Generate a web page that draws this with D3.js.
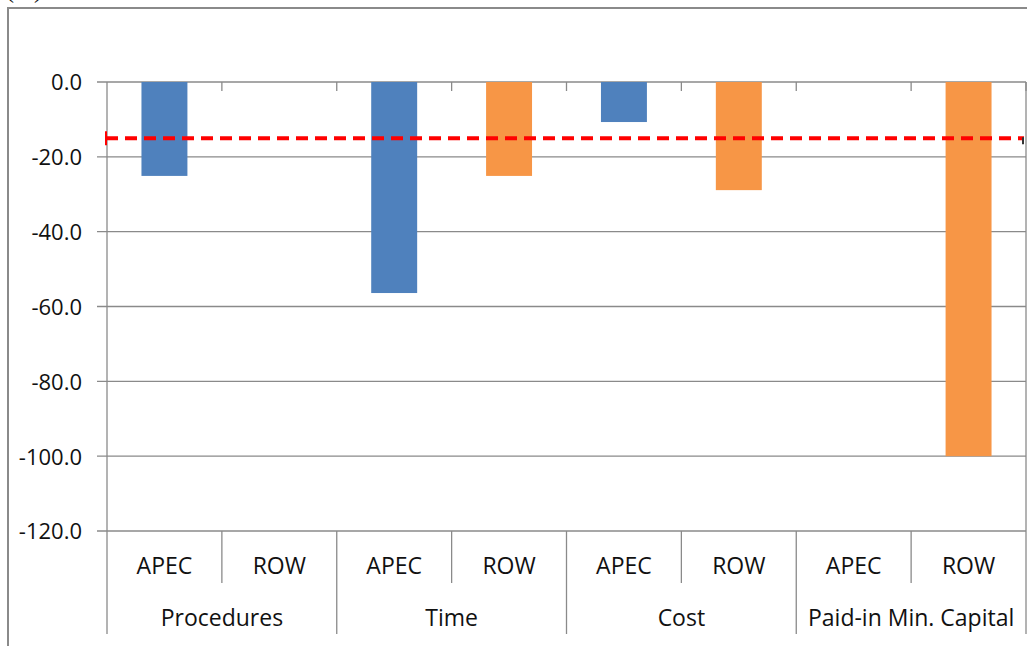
<!DOCTYPE html>
<html>
<head>
<meta charset="utf-8">
<script src="https://cdn.jsdelivr.net/npm/d3@7"></script>
<style>
  body { margin: 0; background: #fff; }
  svg { display: block; }
  text { font-family: "Open Sans", Lato, sans-serif; fill: #111; }
</style>
</head>
<body>
<svg id="chart" width="1027" height="646"></svg>
<script>
// chart data
var groups = ["Procedures", "Time", "Cost", "Paid-in Min. Capital"];
var regions = ["APEC", "ROW"];
var apecValues = [-25.1, -56.4, -10.7, 0];
var rowValues = [0, -25.1, -28.9, -100];
var targetValue = -15;
var yTicks = [0, -20, -40, -60, -80, -100, -120];

var svg = d3.select("#chart");
var plotLeft = 107, plotRight = 1026, plotTop = 82, plotBottom = 531;
var gray = "#8a8a8a";

// excel style: plain hyphen for minus
var fmt = d3.formatLocale({decimal: ".", thousands: ",", grouping: [3], currency: ["", ""], minus: "-"}).format(".1f");

// outer frame and the clipped unit label
svg.append("rect")
  .attr("x", 8).attr("y", 8)
  .attr("width", 1040).attr("height", 700)
  .attr("fill", "none").attr("stroke", gray).attr("stroke-width", 2);
svg.append("text")
  .attr("x", 6).attr("y", -2)
  .style("font-family", "'Liberation Serif', serif")
  .attr("font-size", 24)
  .text("(%)");

// leaf categories: group x region
var leaves = [];
groups.forEach(function(g) {
  regions.forEach(function(r) { leaves.push(g + "|" + r); });
});

var x = d3.scaleBand().domain(leaves).range([plotLeft, plotRight])
  .paddingInner(0.6).paddingOuter(0.3);
var step = x.step();
var y = d3.scaleLinear().domain([0, -120]).range([plotTop, plotBottom]);

// left edge of a leaf's slot
function slot(d) { return x(d) - x.paddingOuter() * step; }

// gridlines
svg.append("g").selectAll("line")
  .data(yTicks)
  .enter().append("line")
  .attr("x1", plotLeft - 10).attr("x2", plotRight)
  .attr("y1", function(d) { return y(d); })
  .attr("y2", function(d) { return y(d); })
  .attr("stroke", gray).attr("stroke-width", 1.3);

// y axis
var yAxis = d3.axisLeft(y).tickValues(yTicks)
  .tickFormat(fmt).tickSize(0).tickPadding(25);
var gy = svg.append("g").attr("transform", "translate(" + plotLeft + ",0)").call(yAxis);
gy.select(".domain").remove();
gy.selectAll("text").attr("font-size", 22).attr("dy", "0.36em")
  .style("font-family", "'Open Sans', sans-serif");
svg.append("line")
  .attr("x1", plotLeft).attr("x2", plotLeft)
  .attr("y1", plotTop).attr("y2", 634)
  .attr("stroke", gray).attr("stroke-width", 1.3);
svg.append("line")
  .attr("x1", plotRight).attr("x2", plotRight)
  .attr("y1", plotTop).attr("y2", plotBottom)
  .attr("stroke", gray).attr("stroke-width", 1.3);

// small ticks on the zero axis
svg.append("g").selectAll("line")
  .data(leaves)
  .enter().append("line")
  .attr("x1", function(d) { return slot(d) + step; })
  .attr("x2", function(d) { return slot(d) + step; })
  .attr("y1", plotTop).attr("y2", plotTop + 9)
  .attr("stroke", gray).attr("stroke-width", 1.3);

// bars
function drawSeries(values, region, color) {
  svg.append("g").selectAll("rect")
    .data(values)
    .enter().append("rect")
    .attr("x", function(d, i) { return x(groups[i] + "|" + region); })
    .attr("y", y(0))
    .attr("width", x.bandwidth())
    .attr("height", function(d) { return y(d) - y(0); })
    .attr("fill", color);
}
drawSeries(apecValues, "APEC", "#4f81bd");
drawSeries(rowValues, "ROW", "#f79646");

// target line
var ty = y(targetValue);
svg.append("line")
  .attr("x1", plotLeft - 1).attr("x2", plotRight - 2)
  .attr("y1", ty).attr("y2", ty)
  .attr("stroke", "#ff0000").attr("stroke-width", 4)
  .attr("stroke-dasharray", "12,7");
svg.append("line")
  .attr("x1", plotLeft - 1).attr("x2", plotLeft - 1)
  .attr("y1", ty - 7).attr("y2", ty + 7)
  .attr("stroke", "#ff0000").attr("stroke-width", 2);
svg.append("line")
  .attr("x1", plotRight - 3).attr("x2", plotRight - 3)
  .attr("y1", ty - 1).attr("y2", ty + 6)
  .attr("stroke", "#333").attr("stroke-width", 2);

// category labels
var cat = svg.append("g");
cat.selectAll("line.sub")
  .data(groups)
  .enter().append("line")
  .attr("class", "sub")
  .attr("x1", function(g) { return slot(g + "|ROW"); })
  .attr("x2", function(g) { return slot(g + "|ROW"); })
  .attr("y1", plotBottom).attr("y2", 583)
  .attr("stroke", gray).attr("stroke-width", 1.3);
cat.selectAll("line.grp")
  .data(groups)
  .enter().append("line")
  .attr("class", "grp")
  .attr("x1", function(g) { return slot(g + "|ROW") + step; })
  .attr("x2", function(g) { return slot(g + "|ROW") + step; })
  .attr("y1", plotBottom).attr("y2", 634)
  .attr("stroke", gray).attr("stroke-width", 1.3);
cat.selectAll("text.leaf")
  .data(leaves)
  .enter().append("text")
  .attr("class", "leaf")
  .attr("x", function(d) { return x(d) + x.bandwidth() / 2; })
  .attr("y", 574)
  .attr("text-anchor", "middle")
  .attr("font-size", 23)
  .text(function(d) { return d.split("|")[1]; });
cat.selectAll("text.grp")
  .data(groups)
  .enter().append("text")
  .attr("class", "grp")
  .attr("x", function(g) { return slot(g + "|ROW"); })
  .attr("y", 626)
  .attr("text-anchor", "middle")
  .attr("font-size", 23)
  .text(function(g) { return g; });
</script>
</body>
</html>
